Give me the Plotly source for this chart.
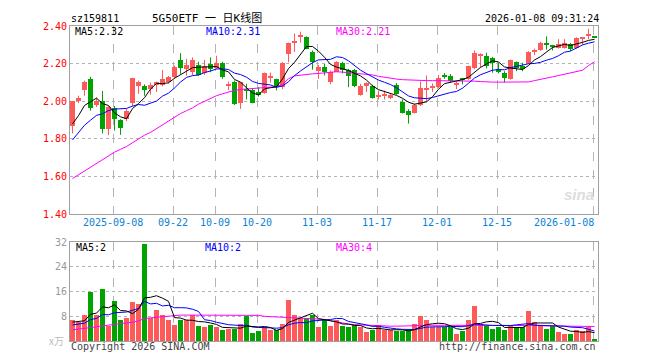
import plotly.graph_objects as go

# ---------------- data ----------------
open_ = [1.87, 2.00, 2.06, 2.12, 1.98, 2.00, 1.855, 1.965, 1.90, 1.905,
         1.99, 2.08, 2.08, 2.067, 2.085, 2.088, 2.105, 2.128, 2.218, 2.172,
         2.158, 2.193, 2.15, 2.196, 2.175, 2.204, 2.085, 2.10, 1.99, 2.067,
         2.058, 2.05, 2.046, 2.126, 2.116, 2.075, 2.25, 2.31, 2.342, 2.339,
         2.26, 2.163, 2.18, 2.10, 2.158, 2.204, 2.168, 2.168, 2.035, 2.08,
         2.084, 2.026, 2.03, 2.018, 2.088, 1.996, 1.947, 1.94, 1.979, 2.065,
         2.073, 2.075, 2.135, 2.135, 2.09, 2.12, 2.117, 2.175, 2.245, 2.242,
         2.232, 2.17, 2.148, 2.117, 2.21, 2.19, 2.205, 2.265, 2.272, 2.302,
         2.292, 2.285, 2.285, 2.305, 2.285, 2.331, 2.35, 2.343]
high = [2.00, 2.03, 2.11, 2.13, 2.02, 2.055, 1.975, 1.975, 1.905, 1.96,
        2.125, 2.11, 2.09, 2.10, 2.105, 2.166, 2.135, 2.19, 2.256, 2.225,
        2.233, 2.21, 2.22, 2.233, 2.242, 2.21, 2.105, 2.11, 2.10, 2.093,
        2.067, 2.075, 2.153, 2.153, 2.12, 2.208, 2.312, 2.36, 2.37, 2.345,
        2.27, 2.193, 2.198, 2.163, 2.213, 2.21, 2.172, 2.172, 2.093, 2.10,
        2.088, 2.057, 2.057, 2.04, 2.098, 2.01, 1.958, 1.988, 2.106, 2.137,
        2.095, 2.14, 2.15, 2.145, 2.105, 2.125, 2.19, 2.27, 2.255, 2.258,
        2.236, 2.205, 2.16, 2.222, 2.212, 2.205, 2.266, 2.28, 2.316, 2.345,
        2.30, 2.33, 2.33, 2.31, 2.34, 2.34, 2.386, 2.346]
low = [1.83, 1.99, 2.03, 1.95, 1.97, 1.83, 1.82, 1.845, 1.822, 1.895,
       1.975, 2.04, 2.03, 2.035, 2.05, 2.08, 2.095, 2.12, 2.146, 2.137,
       2.137, 2.135, 2.14, 2.154, 2.172, 2.12, 2.06, 1.98, 1.96, 2.01,
       1.99, 2.025, 2.04, 2.10, 2.058, 2.065, 2.207, 2.263, 2.312, 2.277,
       2.168, 2.12, 2.137, 2.09, 2.155, 2.148, 2.075, 2.075, 2.03, 2.05,
       2.015, 2.01, 2.01, 2.012, 2.035, 1.935, 1.882, 1.935, 1.975, 1.997,
       2.05, 2.07, 2.12, 2.10, 2.065, 2.09, 2.115, 2.17, 2.18, 2.175,
       2.152, 2.148, 2.10, 2.115, 2.16, 2.16, 2.20, 2.245, 2.268, 2.275,
       2.27, 2.28, 2.28, 2.268, 2.28, 2.30, 2.33, 2.338]
close = [2.00, 2.02, 2.10, 1.965, 2.00, 1.853, 1.972, 1.905, 1.86, 1.948,
         2.123, 2.105, 2.06, 2.088, 2.10, 2.116, 2.128, 2.18, 2.175, 2.193,
         2.218, 2.14, 2.19, 2.172, 2.203, 2.128, 2.09, 1.988, 2.10, 2.053,
         1.993, 2.035, 2.15, 2.13, 2.075, 2.205, 2.31, 2.315, 2.345, 2.28,
         2.207, 2.184, 2.155, 2.154, 2.21, 2.168, 2.133, 2.08, 2.084, 2.098,
         2.018, 2.03, 2.035, 2.035, 2.04, 1.94, 1.926, 1.982, 2.07, 2.068,
         2.077, 2.123, 2.132, 2.11, 2.095, 2.116, 2.187, 2.254, 2.248, 2.186,
         2.202, 2.155, 2.122, 2.22, 2.175, 2.172, 2.262, 2.268, 2.31, 2.30,
         2.29, 2.302, 2.31, 2.28, 2.338, 2.335, 2.354, 2.34]
volume = [6.8, 6.1, 8.2, 15.9, 8.2, 16.9, 4.7, 13.0, 6.6, 7.5,
          12.5, 11.9, 31.4, 7.5, 10.1, 8.5, 6.8, 5.0, 6.8, 6.8,
          8.2, 4.7, 4.5, 5.0, 4.5, 3.4, 3.9, 3.7, 5.3, 7.9,
          2.6, 3.2, 4.5, 3.6, 3.4, 5.3, 13.3, 8.5, 7.5, 7.5,
          8.2, 4.5, 6.8, 4.7, 6.8, 4.7, 4.3, 5.0, 4.3, 2.8,
          3.4, 5.0, 3.4, 3.4, 3.1, 3.1, 3.4, 5.3, 7.9, 6.8,
          4.5, 4.3, 4.5, 4.5, 2.1, 3.1, 6.6, 11.4, 5.3, 4.7,
          3.9, 4.5, 3.6, 5.0, 4.3, 4.3, 9.5, 6.1, 5.0, 3.9,
          4.7, 2.9, 2.3, 2.1, 3.4, 3.2, 4.3, 0.5]
# closes / volumes of the sessions just before the window (estimated from MA lines)
prior_close = [1.66, 1.68, 1.70, 1.74, 1.77, 1.80, 1.83, 1.86, 1.91]
prior_volume = [4.0, 4.5, 4.2, 4.5, 4.3, 5.5, 6.5, 5.5, 6.2]
# 30-day moving averages
ma30_price = [1.59, 1.61, 1.63, 1.65, 1.67, 1.69, 1.71, 1.73, 1.745, 1.76,
              1.78, 1.80, 1.82, 1.835, 1.855, 1.875, 1.895, 1.915, 1.935, 1.95,
              1.965, 1.985, 2.00, 2.015, 2.03, 2.04, 2.05, 2.058, 2.063, 2.066,
              2.068, 2.07, 2.072, 2.074, 2.078, 2.09, 2.12, 2.135, 2.14, 2.143,
              2.146, 2.148, 2.152, 2.155, 2.157, 2.155, 2.152, 2.15, 2.147, 2.145,
              2.14, 2.133, 2.127, 2.122, 2.118, 2.115, 2.113, 2.112, 2.111, 2.11,
              2.11, 2.11, 2.11, 2.11, 2.11, 2.11, 2.108, 2.107, 2.105, 2.102,
              2.102, 2.102, 2.102, 2.102, 2.102, 2.102, 2.103, 2.11, 2.118, 2.125,
              2.13, 2.137, 2.143, 2.15, 2.158, 2.165, 2.19, 2.21]
ma30_volume = [3.6, 3.8, 4.0, 4.3, 4.6, 4.9, 5.1, 5.5, 5.7, 5.9,
               6.1, 6.5, 7.3, 7.5, 7.7, 7.9, 8.1, 8.4, 8.4, 8.4,
               8.4, 8.4, 8.4, 8.4, 8.4, 8.4, 8.4, 8.4, 8.4, 8.4,
               8.4, 8.3, 8.0, 7.9, 7.8, 7.7, 7.6, 7.6, 7.5, 7.4,
               7.3, 7.2, 7.0, 6.6, 6.2, 5.8, 5.5, 5.3, 5.2, 5.0,
               4.9, 4.9, 4.9, 4.8, 4.8, 4.8, 4.8, 4.9, 5.0, 5.1,
               5.1, 5.1, 5.1, 5.1, 5.1, 5.1, 5.1, 5.2, 5.2, 5.2,
               5.2, 5.1, 5.1, 5.0, 5.0, 5.0, 5.0, 5.0, 5.0, 4.9,
               4.9, 4.8, 4.8, 4.8, 4.7, 4.7, 4.7, 4.7]
tick_index = [7, 17, 24, 31, 41, 51, 61, 71, 87]
tick_labels = ["2025-09-08", "09-22", "10-09", "10-20", "11-03",
               "11-17", "12-01", "12-15", "2026-01-08"]
price_ticks = [1.40, 1.60, 1.80, 2.00, 2.20, 2.40]
volume_ticks = [8, 16, 24, 32]

# ---------------- helpers ----------------
def moving_avg(series, prior, n):
    full = list(prior) + list(series)
    k = len(prior)
    return [sum(full[k + i - n + 1:k + i + 1]) / n for i in range(len(series))]

RED = "#ff5a5a"
GREEN = "#00a300"
MONO = "DejaVu Sans Mono"
OFF = 8                      # page body margin of the html page
W, H = 660 - OFF, 360 - OFF
L, R, T, B = 70 - OFF, 62, 21 - OFF, 19
PW, PH = W - L - R, H - T - B

def px(x):                   # screen x (reference pixels) -> paper
    return (x - OFF - L) / PW

def py(y):                   # screen y (reference pixels) -> paper
    return (H - B - (y - OFF)) / PH

n = len(close)
xs = list(range(n))
up = [c >= o for o, c in zip(open_, close)]
ma5 = moving_avg(close, prior_close, 5)
ma10 = moving_avg(close, prior_close, 10)
vma5 = moving_avg(volume, prior_volume, 5)
vma10 = moving_avg(volume, prior_volume, 10)

fig = go.Figure()

# wicks
for flag, col in ((True, RED), (False, GREEN)):
    wx, wy = [], []
    for i in xs:
        if up[i] == flag:
            wx += [i, i, None]
            wy += [low[i], high[i], None]
    fig.add_trace(go.Scatter(x=wx, y=wy, mode="lines", line=dict(color=col, width=1),
                             hoverinfo="skip", showlegend=False, xaxis="x", yaxis="y"))
# bodies
for flag, col in ((True, RED), (False, GREEN)):
    bx = [i for i in xs if up[i] == flag]
    base = [min(open_[i], close[i]) for i in bx]
    hgt = [max(abs(close[i] - open_[i]), 0.0055) for i in bx]
    fig.add_trace(go.Bar(x=bx, y=hgt, base=base, width=0.8, marker=dict(color=col, line=dict(width=0)),
                         showlegend=False, xaxis="x", yaxis="y"))
# price MAs
for vals, col in ((ma30_price, "#ff00ff"), (ma10, "#0000ff"), (ma5, "#000000")):
    fig.add_trace(go.Scatter(x=xs, y=vals, mode="lines", line=dict(color=col, width=1),
                             showlegend=False, xaxis="x", yaxis="y"))
# volume bars
for flag, col in ((True, RED), (False, GREEN)):
    bx = [i for i in xs if up[i] == flag]
    fig.add_trace(go.Bar(x=bx, y=[volume[i] for i in bx], width=0.8,
                         marker=dict(color=col, line=dict(width=0)),
                         showlegend=False, xaxis="x2", yaxis="y2"))
for vals, col in ((ma30_volume, "#ff00ff"), (vma10, "#0000ff"), (vma5, "#000000")):
    fig.add_trace(go.Scatter(x=xs, y=vals, mode="lines", line=dict(color=col, width=1),
                             showlegend=False, xaxis="x2", yaxis="y2"))

grid_x = [t - 0.2 for t in tick_index]
xr = [-0.4167, n - 0.4167]
axis_common = dict(showline=True, mirror=True, linecolor="#a0a0a0", linewidth=1,
                   zeroline=False, ticks="", fixedrange=True)
fig.update_layout(
    width=W, height=H, autosize=False,
    margin=dict(l=L, r=R, t=T, b=B, pad=0),
    paper_bgcolor="white", plot_bgcolor="white",
    barmode="overlay", bargap=0, showlegend=False,
    xaxis=dict(anchor="y", domain=[0, 1], range=xr, tickvals=grid_x, showticklabels=False,
               showgrid=True, gridcolor="#b4b4b4", griddash="dash", gridwidth=1, **axis_common),
    yaxis=dict(domain=[py(212.3), 1], range=[1.40, 2.40], tickvals=price_ticks,
               ticktext=["%.2f" % v for v in price_ticks],
               tickfont=dict(family=MONO, size=10, color="#ff0000"),
               showgrid=True, gridcolor="#b4b4b4", griddash="dot", gridwidth=1, **axis_common),
    xaxis2=dict(anchor="y2", domain=[0, 1], range=xr, tickvals=grid_x, showticklabels=False,
                showgrid=True, gridcolor="#b4b4b4", griddash="dash", gridwidth=1, **axis_common),
    yaxis2=dict(domain=[0, py(240.7)], range=[0, 32], tickvals=volume_ticks,
                ticktext=[str(v) for v in volume_ticks],
                tickfont=dict(family=MONO, size=10, color="#999999"),
                showgrid=True, gridcolor="#b4b4b4", griddash="dot", gridwidth=1, **axis_common),
)

ann = []
def text(x, y, s, color="#000000", size=10, xanchor="left", family=MONO, xref="paper"):
    ann.append(dict(x=x, y=y, xref=xref, yref="paper", text=s, showarrow=False,
                    xanchor=xanchor, yanchor="middle", font=dict(family=family, size=size, color=color)))

text(px(69), py(13), "sz159811", size=10)
text(px(150), py(13), "5G50ETF 一 日K线图", size=11, family="DejaVu Sans Mono, Noto Sans CJK SC")
text(px(601), py(13), "2026-01-08 09:31:24", size=10, xanchor="right")
text(px(73), py(27), "MA5:2.32")
text(px(204), py(27), "MA10:2.31", color="#0000ff")
text(px(334), py(27), "MA30:2.21", color="#ff00ff")
text(px(74), py(246), "MA5:2")
text(px(203), py(246), "MA10:2", color="#0000ff")
text(px(334), py(246), "MA30:4", color="#ff00ff")
for gx, lab in zip(grid_x, tick_labels):
    if lab == tick_labels[-1]:
        text(gx + 0.4, py(221), lab, color="#0b82d6", xanchor="right", xref="x")
    else:
        text(gx, py(221), lab, color="#0b82d6", xanchor="center", xref="x")
text(px(69), py(347), "Copyright 2026 SINA.COM", color="#444444")
text(px(598), py(347), "http://finance.sina.com.cn", color="#444444", xanchor="right")
text(px(66), py(340), "x万", color="#bbbbbb", xanchor="right", family="Noto Sans CJK SC")
text(px(596), py(192), "<i><b>sina</b></i>", color="#dddddd", size=15, xanchor="right",
     family="Liberation Sans")
fig.update_layout(annotations=ann)

fig.write_html("out.html")
